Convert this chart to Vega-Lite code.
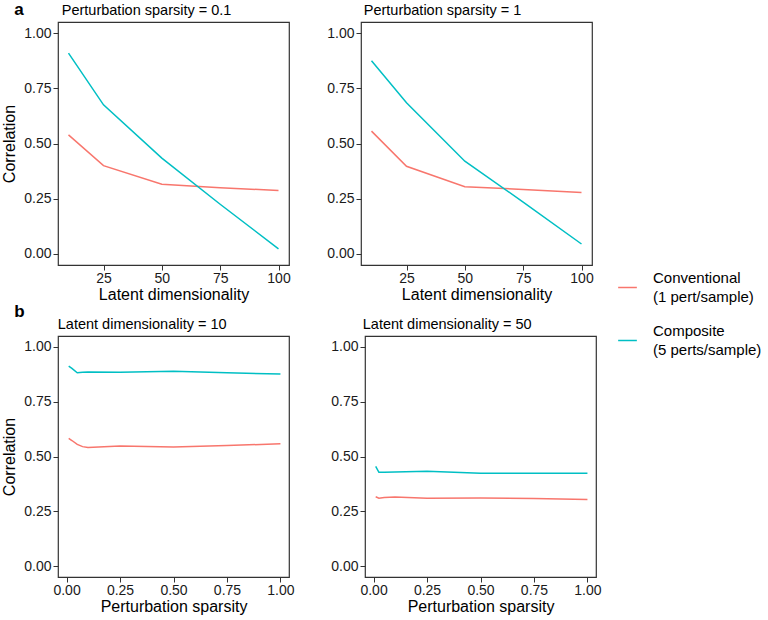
{
  "$schema": "https://vega.github.io/schema/vega-lite/v6.json",
  "padding": {"left": 1, "top": 0, "right": 0, "bottom": 0},
  "background": "white",
  "config": {
    "font": "Liberation Sans",
    "view": {"stroke": "#333333", "strokeWidth": 1.2},
    "axis": {"grid": false, "domain": false, "tickColor": "#333333", "tickSize": 5, "labelFontSize": 14, "labelColor": "#1a1a1a", "titleFontSize": 16, "titleFontWeight": "normal", "titleColor": "#000000", "labelPadding": 2},
    "axisX": {"titlePadding": 1, "labelPadding": 1},
    "axisY": {"titlePadding": 6},
    "title": {"fontSize": 14.5, "fontWeight": "normal", "anchor": "start", "color": "#000000", "offset": 4},
    "legend": {"orient": "none", "legendX": 559, "legendY": 255, "title": null, "labelFontSize": 15, "labelColor": "#000000", "labelBaseline": "line-bottom", "symbolType": "stroke", "symbolSize": 350, "symbolStrokeWidth": 1.5, "rowPadding": 18, "labelOffset": 15}
  },
  "datasets": {
    "d": [
      {"panel": "A1", "x": 10, "y": 0.539, "method": "Conventional|(1 pert/sample)"},
      {"panel": "A1", "x": 25, "y": 0.400, "method": "Conventional|(1 pert/sample)"},
      {"panel": "A1", "x": 50, "y": 0.316, "method": "Conventional|(1 pert/sample)"},
      {"panel": "A1", "x": 75, "y": 0.300, "method": "Conventional|(1 pert/sample)"},
      {"panel": "A1", "x": 100, "y": 0.287, "method": "Conventional|(1 pert/sample)"},
      {"panel": "A1", "x": 10, "y": 0.909, "method": "Composite|(5 perts/sample)"},
      {"panel": "A1", "x": 25, "y": 0.675, "method": "Composite|(5 perts/sample)"},
      {"panel": "A1", "x": 50, "y": 0.434, "method": "Composite|(5 perts/sample)"},
      {"panel": "A1", "x": 75, "y": 0.225, "method": "Composite|(5 perts/sample)"},
      {"panel": "A1", "x": 100, "y": 0.023, "method": "Composite|(5 perts/sample)"},
      {"panel": "A2", "x": 10, "y": 0.556, "method": "Conventional|(1 pert/sample)"},
      {"panel": "A2", "x": 25, "y": 0.397, "method": "Conventional|(1 pert/sample)"},
      {"panel": "A2", "x": 50, "y": 0.304, "method": "Conventional|(1 pert/sample)"},
      {"panel": "A2", "x": 75, "y": 0.292, "method": "Conventional|(1 pert/sample)"},
      {"panel": "A2", "x": 100, "y": 0.278, "method": "Conventional|(1 pert/sample)"},
      {"panel": "A2", "x": 10, "y": 0.875, "method": "Composite|(5 perts/sample)"},
      {"panel": "A2", "x": 25, "y": 0.684, "method": "Composite|(5 perts/sample)"},
      {"panel": "A2", "x": 50, "y": 0.420, "method": "Composite|(5 perts/sample)"},
      {"panel": "A2", "x": 75, "y": 0.235, "method": "Composite|(5 perts/sample)"},
      {"panel": "A2", "x": 100, "y": 0.045, "method": "Composite|(5 perts/sample)"},
      {"panel": "B1", "x": 0.01, "y": 0.583, "method": "Conventional|(1 pert/sample)"},
      {"panel": "B1", "x": 0.025, "y": 0.573, "method": "Conventional|(1 pert/sample)"},
      {"panel": "B1", "x": 0.05, "y": 0.555, "method": "Conventional|(1 pert/sample)"},
      {"panel": "B1", "x": 0.075, "y": 0.545, "method": "Conventional|(1 pert/sample)"},
      {"panel": "B1", "x": 0.1, "y": 0.541, "method": "Conventional|(1 pert/sample)"},
      {"panel": "B1", "x": 0.25, "y": 0.548, "method": "Conventional|(1 pert/sample)"},
      {"panel": "B1", "x": 0.5, "y": 0.543, "method": "Conventional|(1 pert/sample)"},
      {"panel": "B1", "x": 0.75, "y": 0.550, "method": "Conventional|(1 pert/sample)"},
      {"panel": "B1", "x": 1, "y": 0.558, "method": "Conventional|(1 pert/sample)"},
      {"panel": "B1", "x": 0.01, "y": 0.912, "method": "Composite|(5 perts/sample)"},
      {"panel": "B1", "x": 0.025, "y": 0.902, "method": "Composite|(5 perts/sample)"},
      {"panel": "B1", "x": 0.05, "y": 0.882, "method": "Composite|(5 perts/sample)"},
      {"panel": "B1", "x": 0.075, "y": 0.884, "method": "Composite|(5 perts/sample)"},
      {"panel": "B1", "x": 0.1, "y": 0.886, "method": "Composite|(5 perts/sample)"},
      {"panel": "B1", "x": 0.25, "y": 0.884, "method": "Composite|(5 perts/sample)"},
      {"panel": "B1", "x": 0.5, "y": 0.889, "method": "Composite|(5 perts/sample)"},
      {"panel": "B1", "x": 0.75, "y": 0.882, "method": "Composite|(5 perts/sample)"},
      {"panel": "B1", "x": 1, "y": 0.876, "method": "Composite|(5 perts/sample)"},
      {"panel": "B2", "x": 0.01, "y": 0.316, "method": "Conventional|(1 pert/sample)"},
      {"panel": "B2", "x": 0.025, "y": 0.310, "method": "Conventional|(1 pert/sample)"},
      {"panel": "B2", "x": 0.05, "y": 0.313, "method": "Conventional|(1 pert/sample)"},
      {"panel": "B2", "x": 0.1, "y": 0.315, "method": "Conventional|(1 pert/sample)"},
      {"panel": "B2", "x": 0.25, "y": 0.310, "method": "Conventional|(1 pert/sample)"},
      {"panel": "B2", "x": 0.5, "y": 0.311, "method": "Conventional|(1 pert/sample)"},
      {"panel": "B2", "x": 0.75, "y": 0.308, "method": "Conventional|(1 pert/sample)"},
      {"panel": "B2", "x": 1, "y": 0.304, "method": "Conventional|(1 pert/sample)"},
      {"panel": "B2", "x": 0.01, "y": 0.455, "method": "Composite|(5 perts/sample)"},
      {"panel": "B2", "x": 0.025, "y": 0.428, "method": "Composite|(5 perts/sample)"},
      {"panel": "B2", "x": 0.05, "y": 0.428, "method": "Composite|(5 perts/sample)"},
      {"panel": "B2", "x": 0.1, "y": 0.429, "method": "Composite|(5 perts/sample)"},
      {"panel": "B2", "x": 0.25, "y": 0.433, "method": "Composite|(5 perts/sample)"},
      {"panel": "B2", "x": 0.5, "y": 0.424, "method": "Composite|(5 perts/sample)"},
      {"panel": "B2", "x": 0.75, "y": 0.423, "method": "Composite|(5 perts/sample)"},
      {"panel": "B2", "x": 1, "y": 0.423, "method": "Composite|(5 perts/sample)"}
    ]
  },
  "spacing": -1,
  "vconcat": [
    {
      "title": {"text": "a", "fontSize": 17, "fontWeight": "bold", "anchor": "start", "frame": "bounds", "dy": 17, "dx": 13, "offset": 0},
      "spacing": 35,
      "hconcat": [
        {
          "width": 231, "height": 243,
          "title": {"text": "Perturbation sparsity = 0.1", "dx": 60},
          "data": {"name": "d"},
          "transform": [{"filter": "datum.panel == 'A1'"}],
          "mark": {"type": "line", "strokeWidth": 1.5, "clip": true},
          "encoding": {
            "x": {"field": "x", "type": "quantitative", "scale": {"domain": [5.5, 104.5], "nice": false, "zero": false}, "axis": {"values": [25, 50, 75, 100], "title": "Latent dimensionality"}},
            "y": {"field": "y", "type": "quantitative", "scale": {"domain": [-0.05, 1.05], "nice": false}, "axis": {"values": [0, 0.25, 0.5, 0.75, 1], "format": ".2f", "title": "Correlation"}},
            "color": {"field": "method", "type": "nominal", "scale": {"domain": ["Conventional|(1 pert/sample)", "Composite|(5 perts/sample)"], "range": ["#F8766D", "#00BFC4"]}, "legend": {"labelExpr": "split(datum.label, '|')", "encode": {"labels": {"update": {"lineHeight": {"value": 19}}}}}}
          }
        },
        {
          "width": 231, "height": 243,
          "title": {"text": "Perturbation sparsity = 1", "dx": 37},
          "data": {"name": "d"},
          "transform": [{"filter": "datum.panel == 'A2'"}],
          "mark": {"type": "line", "strokeWidth": 1.5, "clip": true},
          "encoding": {
            "x": {"field": "x", "type": "quantitative", "scale": {"domain": [5.5, 104.5], "nice": false, "zero": false}, "axis": {"values": [25, 50, 75, 100], "title": "Latent dimensionality"}},
            "y": {"field": "y", "type": "quantitative", "scale": {"domain": [-0.05, 1.05], "nice": false}, "axis": {"values": [0, 0.25, 0.5, 0.75, 1], "format": ".2f", "title": null}},
            "color": {"field": "method", "type": "nominal", "scale": {"domain": ["Conventional|(1 pert/sample)", "Composite|(5 perts/sample)"], "range": ["#F8766D", "#00BFC4"]}, "legend": {"labelExpr": "split(datum.label, '|')", "encode": {"labels": {"update": {"lineHeight": {"value": 19}}}}}}
          }
        }
      ]
    },
    {
      "title": {"text": "b", "fontSize": 17, "fontWeight": "bold", "anchor": "start", "frame": "bounds", "dy": 5, "dx": 13, "offset": 0},
      "spacing": 35,
      "hconcat": [
        {
          "width": 231, "height": 241,
          "title": {"text": "Latent dimensionality = 10", "dx": 56},
          "data": {"name": "d"},
          "transform": [{"filter": "datum.panel == 'B1'"}],
          "mark": {"type": "line", "strokeWidth": 1.5, "clip": true},
          "encoding": {
            "x": {"field": "x", "type": "quantitative", "scale": {"domain": [-0.04, 1.04], "nice": false, "zero": false}, "axis": {"values": [0, 0.25, 0.5, 0.75, 1], "format": ".2f", "title": "Perturbation sparsity"}},
            "y": {"field": "y", "type": "quantitative", "scale": {"domain": [-0.05, 1.05], "nice": false}, "axis": {"values": [0, 0.25, 0.5, 0.75, 1], "format": ".2f", "title": "Correlation"}},
            "color": {"field": "method", "type": "nominal", "scale": {"domain": ["Conventional|(1 pert/sample)", "Composite|(5 perts/sample)"], "range": ["#F8766D", "#00BFC4"]}, "legend": {"labelExpr": "split(datum.label, '|')", "encode": {"labels": {"update": {"lineHeight": {"value": 19}}}}}}
          }
        },
        {
          "width": 231, "height": 241,
          "title": {"text": "Latent dimensionality = 50", "dx": 32},
          "data": {"name": "d"},
          "transform": [{"filter": "datum.panel == 'B2'"}],
          "mark": {"type": "line", "strokeWidth": 1.5, "clip": true},
          "encoding": {
            "x": {"field": "x", "type": "quantitative", "scale": {"domain": [-0.04, 1.04], "nice": false, "zero": false}, "axis": {"values": [0, 0.25, 0.5, 0.75, 1], "format": ".2f", "title": "Perturbation sparsity"}},
            "y": {"field": "y", "type": "quantitative", "scale": {"domain": [-0.05, 1.05], "nice": false}, "axis": {"values": [0, 0.25, 0.5, 0.75, 1], "format": ".2f", "title": null}},
            "color": {"field": "method", "type": "nominal", "scale": {"domain": ["Conventional|(1 pert/sample)", "Composite|(5 perts/sample)"], "range": ["#F8766D", "#00BFC4"]}, "legend": {"labelExpr": "split(datum.label, '|')", "encode": {"labels": {"update": {"lineHeight": {"value": 19}}}}}}
          }
        }
      ]
    }
  ]
}
